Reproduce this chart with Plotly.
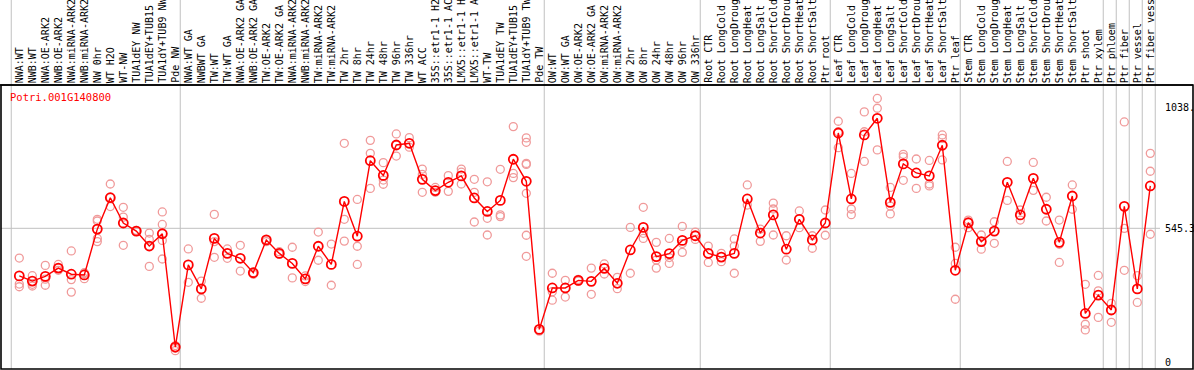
import plotly.graph_objects as go

# ---------------- data ----------------
labels = [
    "NWA:WT", "NWB:WT", "NWA:OE-ARK2", "NWB:OE-ARK2", "NWA:miRNA-ARK2", "NWB:miRNA-ARK2",
    "NW 0hr", "WT H2O", "WT-NW", "TUA1dEY NW", "TUA1dEY+TUB15", "TUA1dY+TUB9 NW", "Pde NW",
    "NWA:WT GA", "NWBWT GA", "TW:WT", "TW:WT GA", "NWA:OE-ARK2 GA", "NWB:OE-ARK2 GA",
    "TW:OE-ARK2", "TW:OE-ARK2 GA", "NWA:miRNA-ARK2", "NWB:miRNA-ARK2", "TW:miRNA-ARK2",
    "TW:miRNA-ARK2", "TW 2hr", "TW 8hr", "TW 24hr", "TW 48hr", "TW 96hr", "TW 336hr", "WT ACC",
    "35S::etr1-1 H2", "35S::etr1-1 AC", "LMX5::etr1-1 H", "LMX5::etr1-1 A", "WT-TW",
    "TUA1dEY TW", "TUA1dEY+TUB15", "TUA1dY+TUB9 TW", "Pde TW",
    "OW:WT", "OW:WT GA", "OW:OE-ARK2", "OW:OE-ARK2 GA", "OW:miRNA-ARK2", "OW:miRNA-ARK2",
    "OW 2hr", "OW 8hr", "OW 24hr", "OW 48hr", "OW 96hr", "OW 336hr",
    "Root CTR", "Root LongCold", "Root LongDroug", "Root LongHeat", "Root LongSalt",
    "Root ShortCold", "Root ShortDrou", "Root ShortHeat", "Root ShortSalt", "Ptr root",
    "Leaf CTR", "Leaf LongCold", "Leaf LongDroug", "Leaf LongHeat", "Leaf LongSalt",
    "Leaf ShortCold", "Leaf ShortDrou", "Leaf ShortHeat", "Leaf ShortSalt", "Ptr leaf",
    "Stem CTR", "Stem LongCold", "Stem LongDroug", "Stem LongHeat", "Stem LongSalt",
    "Stem ShortCold", "Stem ShortDrou", "Stem ShortHeat", "Stem ShortSalt", "Ptr shoot",
    "Ptr xylem", "Ptr phloem", "Ptr fiber", "Ptr vessel", "Ptr fiber vess",
]

mean_values = [
    351, 330, 349, 383, 358, 355, 542, 670, 567, 534, 473, 523, 61,
    396, 298, 504, 443, 423, 364, 498, 443, 402, 339, 472, 398, 655, 513, 821, 761,
    885, 892, 745, 699, 733, 759, 669, 614, 659, 827, 737, 133,
    302, 302, 333, 329, 382, 321, 457, 549, 430, 442, 496, 515,
    443, 428, 443, 665, 526, 600, 460, 582, 498, 567,
    934, 665, 926, 994, 651, 808, 771, 759, 884, 374,
    568, 491, 534, 733, 600, 749, 623, 488, 677, 198, 273,
    212, 635, 298, 718,
]

replicate_values = [
    [424, 318, 307], [352, 317, 310], [394, 338, 313], [398, 374, 383], [453, 336, 285],
    [364, 340, 360], [582, 504, 491, 575], [726, 634, 670], [631, 591, 476], [537, 532, 534],
    [526, 500, 390, 473], [612, 561, 496, 420], [67, 46, 56],
    [461, 325], [330, 260], [602, 491, 427], [461, 423], [476, 371], [364, 358], [498, 491],
    [450, 440], [468, 343], [351, 328], [530, 415], [481, 313], [892, 582, 493],
    [663, 472, 398], [904, 851, 708], [813, 742, 725], [930, 840, 885], [915, 876],
    [787, 765, 692], [712, 692], [760, 696], [787, 726, 774], [745, 692, 571],
    [735, 586, 518], [786, 600, 593], [960, 769, 752],
    [914, 896, 810, 806, 688, 517, 431], [133, 126],
    [362, 287, 252], [333, 265], [337, 330], [383, 276], [400, 359], [345, 299], [549, 362],
    [631, 504, 525], [488, 416, 383], [504, 426, 402], [553, 483, 447], [530, 500],
    [473, 406], [443, 409], [502, 473, 362], [722, 640], [542, 492], [648, 624, 518],
    [515, 416], [616, 548], [515, 464], [620, 517],
    [982, 874, 939], [769, 624, 601], [1020, 939, 818], [1075, 1035, 865], [712, 636, 604],
    [847, 837, 741], [828, 708], [822, 726, 718], [926, 912, 824], [468, 402, 256],
    [579, 548], [518, 460], [572, 484], [818, 659], [620, 579], [814, 700], [672, 575],
    [579, 480, 406], [722, 623], [317, 154, 131], [353, 290, 182],
    [239, 162], [979, 545, 374], [352, 243], [851, 778, 521],
]

group_starts = [0, 13, 41, 53, 63, 73, 84, 85, 86, 87, 88]
y_ticks = [1038, 545.3, 0]
y_tick_text = ["1038.", "545.3", "0"]
gene_id = "Potri.001G140800"

# ---------------- layout geometry ----------------
W, H = 1194, 370
X0, DX = 19.3, 13.0          # pixel of first category, pixels per category
Y_ZERO, PX_PER_UNIT = 362.0, 1 / 4.0785
x_range = [(0 - X0) / DX, (W - X0) / DX]
y_range = [(Y_ZERO - H) / PX_PER_UNIT, Y_ZERO / PX_PER_UNIT]


def px(p):
    return p / W


def py(p):
    return 1 - p / H


MONO = "DejaVu Sans Mono"

idx = list(range(len(labels)))
rep_x, rep_y = [], []
for i, reps in enumerate(replicate_values):
    for r in reps:
        rep_x.append(i)
        rep_y.append(r)

fig = go.Figure()
fig.add_trace(go.Scatter(
    x=rep_x, y=rep_y, mode="markers",
    marker=dict(symbol="circle-open", size=8, color="#f09a9a", line=dict(width=1.3)),
    hoverinfo="skip", showlegend=False, cliponaxis=False,
))
fig.add_trace(go.Scatter(
    x=idx, y=mean_values, mode="lines+markers",
    line=dict(color="#ff0000", width=1.4),
    marker=dict(symbol="circle-open", size=9, color="#ff0000", line=dict(width=1.8)),
    showlegend=False, cliponaxis=False,
))

shapes = []
# vertical group separators
for b in group_starts:
    shapes.append(dict(type="line", xref="x", yref="paper", x0=b - 0.62, x1=b - 0.62,
                       y0=py(369), y1=1, line=dict(color="#c0c0c0", width=1), layer="below"))
# horizontal mid gridline
shapes.append(dict(type="line", xref="paper", yref="y", x0=px(1), x1=px(1160),
                   y0=y_ticks[1], y1=y_ticks[1], line=dict(color="#c0c0c0", width=1),
                   layer="below"))
# frame
shapes.append(dict(type="line", xref="paper", yref="paper", x0=0, x1=px(1193),
                   y0=py(85), y1=py(85), line=dict(color="black", width=1.6)))
shapes.append(dict(type="rect", xref="paper", yref="paper", x0=px(1), x1=px(1193),
                   y0=py(369), y1=py(85), line=dict(color="black", width=1.6)))

annotations = []
for i, lab in enumerate(labels):
    annotations.append(dict(x=i, xref="x", y=py(84), yref="paper", text=lab,
                            textangle=-90, xanchor="center", yanchor="bottom",
                            showarrow=False, font=dict(family=MONO, size=10, color="black"),
                            borderpad=0))
for v, t in zip(y_ticks, y_tick_text):
    annotations.append(dict(x=px(1163), xref="paper", y=v, yref="y", text=t,
                            xanchor="left", yanchor="middle", showarrow=False,
                            font=dict(family=MONO, size=10, color="black")))
annotations.append(dict(x=px(8), xref="paper", y=py(97), yref="paper", text=gene_id,
                        xanchor="left", yanchor="middle", showarrow=False,
                        font=dict(family=MONO, size=10.5, color="#ff0000")))

fig.update_layout(
    width=W, height=H, margin=dict(l=0, r=0, t=0, b=0),
    paper_bgcolor="white", plot_bgcolor="white",
    xaxis=dict(range=x_range, visible=False, fixedrange=True),
    yaxis=dict(range=y_range, visible=False, fixedrange=True),
    shapes=shapes, annotations=annotations,
)

fig.write_html(
    "out.html",
    config={"displayModeBar": False, "staticPlot": True},
    post_script="document.body.style.margin='0';document.body.style.padding='0';"
                "document.body.style.overflow='hidden';",
)
